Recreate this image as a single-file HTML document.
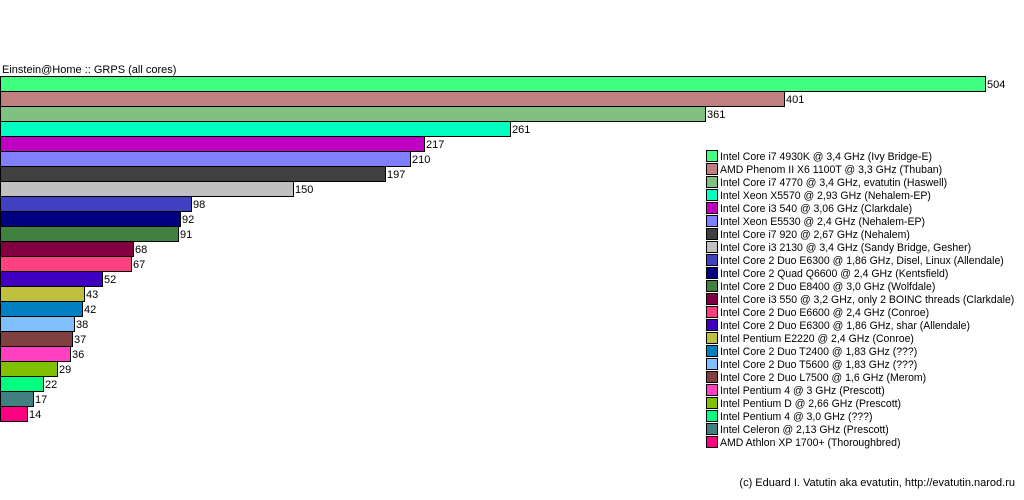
<!DOCTYPE html>
<html><head><meta charset="utf-8"><style>
html,body{margin:0;padding:0;background:#fff;}
svg{display:block;font-family:"Liberation Sans",sans-serif;font-size:11px;}
</style></head><body>
<svg width="1024" height="500" xmlns="http://www.w3.org/2000/svg">
<text x="2" y="73" fill="#000">Einstein@Home :: GRPS (all cores)</text>
<g id="bars" stroke="#000" stroke-width="1"></g>
<g id="labels"></g>
<g id="legend"></g>
<g id="legtext" transform="translate(720,0) scale(0.955,1)"></g>
<text x="1015" y="486" text-anchor="end" fill="#000">(c) Eduard I. Vatutin aka evatutin, http://evatutin.narod.ru</text>
<script>
var d=[[504,"#40ff80","Intel Core i7 4930K @ 3,4 GHz (Ivy Bridge-E)"],
[401,"#c08080","AMD Phenom II X6 1100T @ 3,3 GHz (Thuban)"],
[361,"#80c080","Intel Core i7 4770 @ 3,4 GHz, evatutin (Haswell)"],
[261,"#00ffc0","Intel Xeon X5570 @ 2,93 GHz (Nehalem-EP)"],
[217,"#c000c0","Intel Core i3 540 @ 3,06 GHz (Clarkdale)"],
[210,"#8080ff","Intel Xeon E5530 @ 2,4 GHz (Nehalem-EP)"],
[197,"#404040","Intel Core i7 920 @ 2,67 GHz (Nehalem)"],
[150,"#c0c0c0","Intel Core i3 2130 @ 3,4 GHz (Sandy Bridge, Gesher)"],
[98,"#4040c0","Intel Core 2 Duo E6300 @ 1,86 GHz, Disel, Linux (Allendale)"],
[92,"#000080","Intel Core 2 Quad Q6600 @ 2,4 GHz (Kentsfield)"],
[91,"#408040","Intel Core 2 Duo E8400 @ 3,0 GHz (Wolfdale)"],
[68,"#800040","Intel Core i3 550 @ 3,2 GHz, only 2 BOINC threads (Clarkdale)"],
[67,"#ff4080","Intel Core 2 Duo E6600 @ 2,4 GHz (Conroe)"],
[52,"#4000c0","Intel Core 2 Duo E6300 @ 1,86 GHz, shar (Allendale)"],
[43,"#c0c040","Intel Pentium E2220 @ 2,4 GHz (Conroe)"],
[42,"#0080c0","Intel Core 2 Duo T2400 @ 1,83 GHz (???)"],
[38,"#80c0ff","Intel Core 2 Duo T5600 @ 1,83 GHz (???)"],
[37,"#804040","Intel Core 2 Duo L7500 @ 1,6 GHz (Merom)"],
[36,"#ff40c0","Intel Pentium 4 @ 3 GHz (Prescott)"],
[29,"#80c000","Intel Pentium D @ 2,66 GHz (Prescott)"],
[22,"#00ff80","Intel Pentium 4 @ 3,0 GHz (???)"],
[17,"#408080","Intel Celeron @ 2,13 GHz (Prescott)"],
[14,"#ff0080","AMD Athlon XP 1700+ (Thoroughbred)"]];
var ns="http://www.w3.org/2000/svg";
function el(t,a,p,tx){var e=document.createElementNS(ns,t);for(var k in a)e.setAttribute(k,a[k]);if(tx)e.textContent=tx;document.getElementById(p).appendChild(e);}
d.forEach(function(r,i){
 var w=Math.round(r[0]*1.954);var y=76+15*i;
 el("rect",{x:0.5,y:y+0.5,width:w,height:15,fill:r[1]},"bars");
 el("text",{x:w+2,y:y+12,fill:"#000"},"labels",String(r[0]));
 var ly=150+13*i;
 el("rect",{x:706.5,y:ly+0.5,width:11,height:11,fill:r[1],stroke:"#000"},"legend");
 el("text",{x:0,y:ly+10,fill:"#000"},"legtext",r[2]);
});
</script>
</svg>
</body></html>
